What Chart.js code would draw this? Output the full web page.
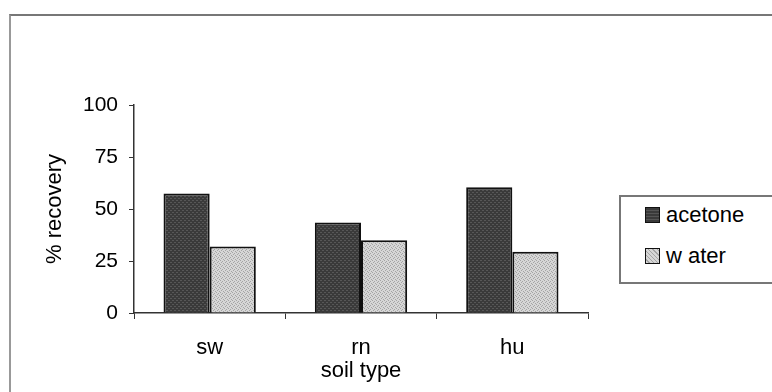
<!DOCTYPE html>
<html>
<head>
<meta charset="utf-8">
<script src="https://cdn.jsdelivr.net/npm/chart.js@4"></script>
<style>
    body { margin: 0; background: #fff; font-family: "Liberation Sans", Arial, sans-serif; }
    .wrap { position: relative; width: 772px; height: 392px; overflow: hidden; }
    .frame { position: absolute; left: 9px; top: 14px; width: 800px; height: 400px; border-left: 2px solid #999; border-top: 2px solid #777; }
    canvas { position: absolute; left: 0; top: 0; }
    .legend { position: absolute; left: 619px; top: 195px; width: 170px; height: 85px; border: 2px solid #777; background: #fff; }
    .legend-item { position: absolute; left: 24px; font-size: 22px; color: #000; display: flex; align-items: center; }
    .swatch { width: 13px; height: 14px; border: 1.5px solid #111; margin-right: 6px; }
</style>
</head>
<body>
<div class="wrap">
    <div class="frame"></div>
    <canvas id="recoveryChart" width="772" height="392"></canvas>
    <div class="legend" id="legend"></div>
</div>
<script>
const soilTypes = ["sw", "rn", "hu"]
const acetone = [57.5, 43.5, 60.5]
const water = [32, 35, 29.5]
const seriesNames = ["acetone", "w ater"]
const yTicks = [0, 25, 50, 75, 100]

function makePattern(base, spot, dots) {
    const c = document.createElement("canvas")
    c.width = 4
    c.height = 4
    const g = c.getContext("2d")
    g.fillStyle = base
    g.fillRect(0, 0, 4, 4)
    g.fillStyle = spot
    dots.forEach(d => g.fillRect(d[0], d[1], 1, 1))
    return g.createPattern(c, "repeat")
}

const ctx = document.getElementById("recoveryChart").getContext("2d")
const darkFill = makePattern("#3a3a3a", "#575757", [[0, 0], [1, 0], [2, 2], [3, 2]])
const lightFill = makePattern("#d6d6d6", "#a4a4a4", [[0, 0], [2, 1], [1, 2], [3, 3]])
const font = "Liberation Sans"

const chart = new Chart(ctx, {
    type: "bar",
    data: {
        labels: soilTypes,
        datasets: [
            { label: seriesNames[0], data: acetone, backgroundColor: darkFill, borderColor: "#111", borderWidth: 2 },
            { label: seriesNames[1], data: water, backgroundColor: lightFill, borderColor: "#111", borderWidth: 2 }
        ]
    },
    options: {
        responsive: false,
        animation: false,
        layout: { padding: { top: 105, right: 184, left: 36, bottom: 0 } },
        plugins: { legend: { display: false }, tooltip: { enabled: false } },
        datasets: { bar: { categoryPercentage: 0.61, barPercentage: 1 } },
        scales: {
            x: {
                grid: { offset: true, drawOnChartArea: false, tickLength: 6, color: "#333" },
                border: { color: "#333", width: 1.5 },
                ticks: { color: "#000", font: { size: 22, family: font }, padding: 16 },
                title: { display: true, text: "soil type", color: "#000", font: { size: 22, family: font }, padding: { bottom: 8 } },
                afterFit: scale => { scale.height = 79 }
            },
            y: {
                min: 0,
                max: 100,
                afterBuildTicks: scale => { scale.ticks = yTicks.map(v => ({ value: v })) },
                grid: { drawOnChartArea: false, tickLength: 5, color: "#333" },
                border: { color: "#333", width: 1.5 },
                ticks: { color: "#000", font: { size: 21, family: font }, padding: 11 },
                title: { display: true, text: "% recovery", color: "#000", font: { size: 22, family: font }, padding: { top: 6 } },
                afterFit: scale => { scale.width = 98 }
            }
        }
    }
})

const legend = document.getElementById("legend")
const swatchBg = [
    "repeating-linear-gradient(0deg, #3a3a3a 0 2px, #555 2px 3px)",
    "repeating-linear-gradient(45deg, #d6d6d6 0 2px, #a4a4a4 2px 3px)"
]
seriesNames.forEach((name, i) => {
    const item = document.createElement("div")
    item.className = "legend-item"
    item.style.top = (5 + i * 41) + "px"
    item.innerHTML = '<span class="swatch" style="background:' + swatchBg[i] + '"></span>' + name
    legend.appendChild(item)
})
</script>
</body>
</html>
